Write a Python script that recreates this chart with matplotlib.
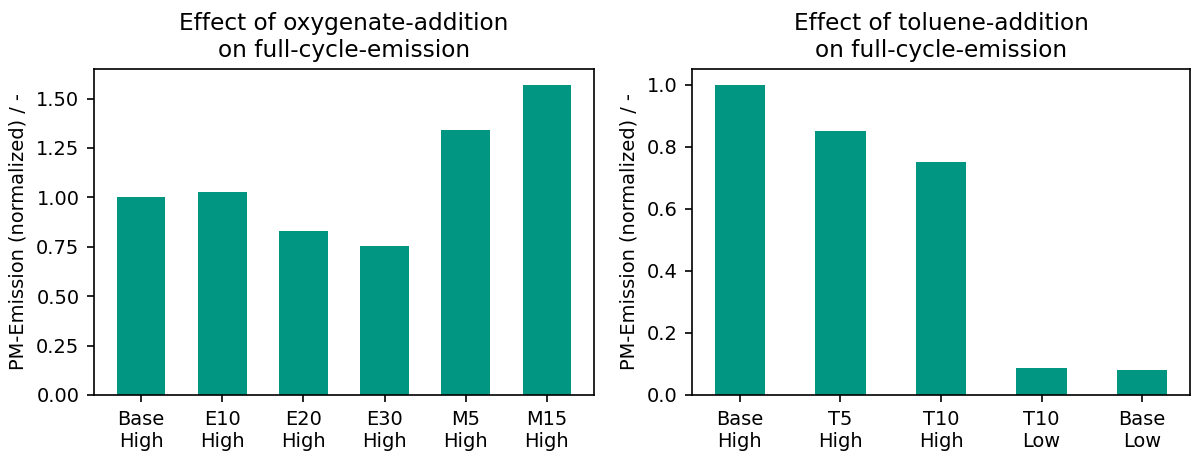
import numpy as np
import matplotlib
matplotlib.use('Agg')
from matplotlib import pyplot as plt

# oxygenate fuels
oxy_labels = ['Base\nHigh', 'E10\nHigh', 'E20\nHigh', 'E30\nHigh', 'M5\nHigh', 'M15\nHigh']
oxy_values = [1.0, 1.027, 0.832, 0.752, 1.343, 1.571]

# toluene fuels
tol_labels = ['Base\nHigh', 'T5\nHigh', 'T10\nHigh', 'T10\nLow', 'Base\nLow']
tol_values = [1.0, 0.851, 0.751, 0.088, 0.082]

kit_green = '#009682'
ylabel = 'PM-Emission (normalized) / -'

plt.rcParams['font.size'] = 9.3

W, H = 1192, 452
fig = plt.figure(figsize=(W / 150, H / 150), dpi=150)
ax1 = fig.add_axes([94 / W, 1 - 395 / H, (594 - 94) / W, (395 - 69) / H])
ax2 = fig.add_axes([692 / W, 1 - 395 / H, (1190 - 692) / W, (395 - 69) / H])

x1 = np.arange(len(oxy_labels))
ax1.bar(x1, oxy_values, width=0.6, color=kit_green)
ax1.set_xticks(x1)
ax1.set_xticklabels(oxy_labels)
ax1.set_ylabel(ylabel)
ax1.set_title('Effect of oxygenate-addition\non full-cycle-emission')

x2 = np.arange(len(tol_labels))
ax2.bar(x2, tol_values, width=0.5, color=kit_green)
ax2.set_xticks(x2)
ax2.set_xticklabels(tol_labels)
ax2.set_ylabel(ylabel)
ax2.set_title('Effect of toluene-addition\non full-cycle-emission')

fig.savefig('out.png', dpi=150)
